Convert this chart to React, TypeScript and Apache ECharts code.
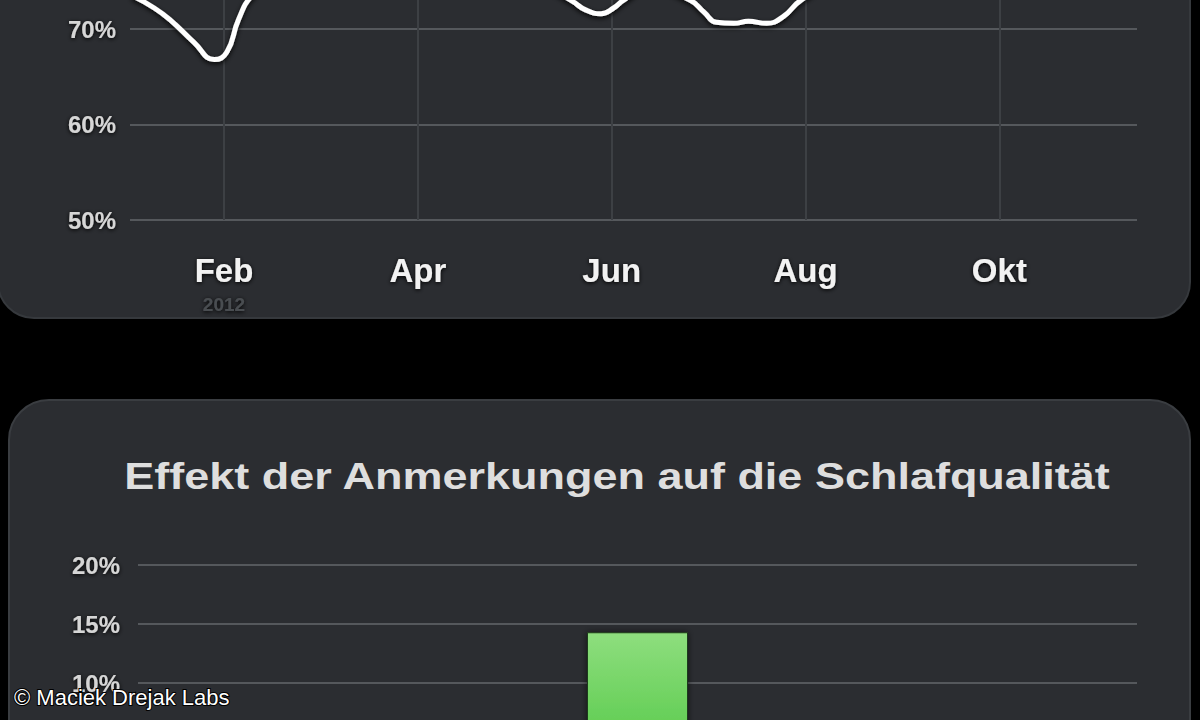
import { useEffect, useRef } from 'react'
import * as echarts from 'echarts'

// Top chart: sleep quality trend (x = month index, Jan = 0)
const monthTicks = [1, 3, 5, 7, 9]
const monthNames = ['Feb', 'Apr', 'Jun', 'Aug', 'Okt']
const trendX = [0.05, 0.28, 0.45, 0.69, 0.9, 1.03, 1.15, 1.29, 1.6, 2.5, 3.5, 4.2, 4.58, 4.73, 4.89, 5.02, 5.12, 5.4, 5.81, 5.95, 6.08, 6.26, 6.41, 6.6, 6.77, 6.95, 7.3, 8, 9, 10, 10.4]
const trendY = [73.5, 72.2, 70.9, 68.6, 66.8, 67.6, 71.0, 73.5, 76, 77, 76.5, 75, 73.0, 72.0, 71.6, 72.2, 73.0, 74.5, 73.0, 71.8, 70.7, 70.6, 70.8, 70.6, 71.3, 73.0, 75, 76, 75.5, 76, 75.5]

// Bottom chart: effect of notes on sleep quality
const noteCategories = ['Anmerkung']
const noteEffect = [14.3]

const FONT = "'Liberation Sans', Arial, sans-serif"

export default function App() {
  const chartRef = useRef<HTMLDivElement>(null)

  useEffect(() => {
    if (!chartRef.current) return
    const chart = echarts.init(chartRef.current, null, { renderer: 'svg' })

    const labelShadow = {
      textShadowColor: '#000',
      textShadowBlur: 4,
      textShadowOffsetY: 1
    }

    const yLabel = {
      color: '#d6d6d6',
      fontFamily: FONT,
      fontWeight: 'bold',
      fontSize: 24,
      ...labelShadow,
      formatter: '{value}%'
    }

    const option = {
      animation: false,
      backgroundColor: '#000',
      graphic: [
        {
          type: 'rect',
          z: -100,
          silent: true,
          shape: { x: -2, y: -60, width: 1192, height: 378, r: 36 },
          style: { fill: '#2b2d31', stroke: '#36393d', lineWidth: 2 }
        },
        {
          type: 'rect',
          z: -100,
          silent: true,
          shape: { x: 9, y: 400, width: 1181, height: 400, r: 40 },
          style: { fill: '#2b2d31', stroke: '#3a3d41', lineWidth: 2 }
        },
        {
          type: 'text',
          x: 617,
          y: 477,
          scaleX: 1.25,
          style: {
            text: 'Effekt der Anmerkungen auf die Schlafqualität',
            fill: '#dedede',
            font: `bold 36px ${FONT}`,
            textAlign: 'center',
            textVerticalAlign: 'middle',
            shadowColor: '#000',
            shadowBlur: 4,
            shadowOffsetY: 2
          }
        },
        {
          type: 'text',
          x: 14,
          y: 697,
          z: 100,
          style: {
            text: '© Maciek Drejak Labs',
            fill: '#ffffff',
            font: `22px ${FONT}`,
            textVerticalAlign: 'middle',
            stroke: '#000',
            lineWidth: 2
          }
        }
      ],
      grid: [
        { left: 130, right: 63, top: -66.5, bottom: 500, outerBoundsMode: 'none', containLabel: false },
        { left: 138, right: 63, top: 565, bottom: -81, outerBoundsMode: 'none', containLabel: false }
      ],
      xAxis: [
        {
          gridIndex: 0,
          type: 'value',
          min: 0.03,
          max: 10.42,
          axisLine: { show: false },
          axisTick: { show: false },
          splitLine: { show: false },
          axisLabel: {
            customValues: monthTicks,
            margin: 31,
            color: '#f2f2f2',
            fontFamily: FONT,
            fontWeight: 'bold',
            fontSize: 33,
            lineHeight: 38,
            ...labelShadow,
            formatter: (v: number) => {
              const name = monthNames[monthTicks.indexOf(v)] ?? ''
              return v === 1 ? `${name}\n{y|2012}` : name
            },
            rich: {
              y: {
                color: '#4a4d51',
                fontSize: 19,
                fontFamily: FONT,
                lineHeight: 30,
                textShadowBlur: 0
              }
            }
          }
        },
        {
          gridIndex: 1,
          type: 'category',
          data: noteCategories,
          axisLine: { show: false },
          axisTick: { show: false },
          axisLabel: { show: false },
          splitLine: { show: false }
        }
      ],
      yAxis: [
        {
          gridIndex: 0,
          type: 'value',
          min: 50,
          max: 80,
          interval: 10,
          axisLine: { show: false },
          axisTick: { show: false },
          axisLabel: { margin: 14, showMaxLabel: false, ...yLabel },
          splitLine: { lineStyle: { color: '#55585c', width: 2 } }
        },
        {
          gridIndex: 1,
          type: 'value',
          min: 0,
          max: 20,
          interval: 5,
          axisLine: { show: false },
          axisTick: { show: false },
          axisLabel: { margin: 18, showMinLabel: false, ...yLabel },
          splitLine: { lineStyle: { color: '#55585c', width: 2 } }
        }
      ],
      series: [
        {
          type: 'line',
          xAxisIndex: 0,
          yAxisIndex: 0,
          data: trendX.map((x, i) => [x, trendY[i]]),
          smooth: 0.5,
          symbol: 'none',
          lineStyle: {
            color: '#ffffff',
            width: 5,
            shadowColor: 'rgba(0,0,0,0.9)',
            shadowBlur: 5,
            shadowOffsetY: 2
          },
          markLine: {
            silent: true,
            symbol: 'none',
            label: { show: false },
            lineStyle: { color: '#3d4044', width: 2, type: 'solid' },
            data: monthTicks.map(m => ({ xAxis: m }))
          },
          z: 5
        },
        {
          type: 'bar',
          xAxisIndex: 1,
          yAxisIndex: 1,
          data: noteEffect,
          barWidth: 101,
          itemStyle: {
            color: new echarts.graphic.LinearGradient(0, 0, 0, 1, [
              { offset: 0, color: '#8ede7e' },
              { offset: 0.5, color: '#68d05a' },
              { offset: 1, color: '#4ec444' }
            ]),
            borderColor: '#1d3a1a',
            borderWidth: 1,
            shadowColor: 'rgba(0,0,0,0.6)',
            shadowBlur: 6
          }
        }
      ]
    }

    chart.setOption(option)
    return () => chart.dispose()
  }, [])

  return (
    <div
      ref={chartRef}
      style={{ position: 'fixed', left: 0, top: 0, width: 1200, height: 720, background: '#000' }}
    />
  )
}
